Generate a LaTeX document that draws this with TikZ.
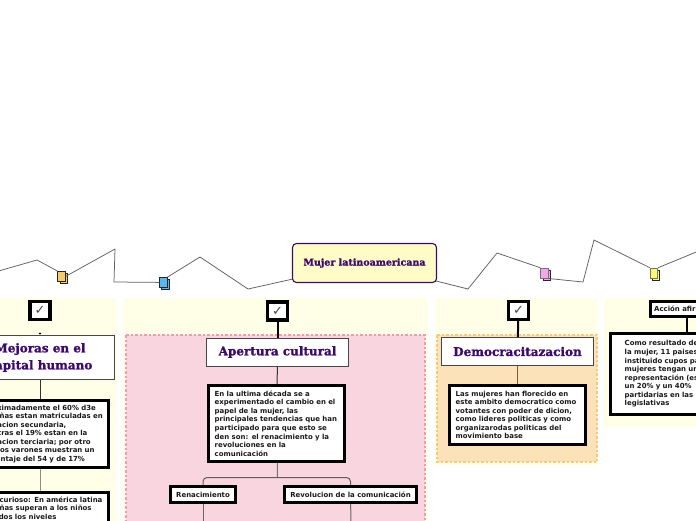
\documentclass[tikz,border=0pt]{standalone}
\usepackage{fontspec}
\setmainfont{DejaVu Sans}
\newfontfamily\titlef[FakeBold=1.3]{DejaVu Serif Bold}
\newfontfamily\bodyf{DejaVu Sans Bold}
\newcommand{\tl}[1]{\makebox[0pt][l]{#1}\par}
\definecolor{paneli}{HTML}{FFFFE8}
\definecolor{pinki}{HTML}{F9D5E0}
\definecolor{pinkd}{HTML}{F59AAE}
\definecolor{orai}{HTML}{FBE2B8}
\definecolor{orad}{HTML}{FBC77F}
\definecolor{purp}{HTML}{3D0A6B}
\definecolor{icoblue}{HTML}{5BB8EE}
\definecolor{icoora}{HTML}{F6CB6C}
\definecolor{icopink}{HTML}{F2A6EC}
\definecolor{icoyel}{HTML}{FCFC72}
\tikzset{
  panel/.style={fill=paneli,draw=none},
  zone/.style={dashed,dash pattern=on 2.5pt off 2pt,line width=1.1pt},
  wave/.style={draw=black!62,line width=.75pt,line join=round},
  mainbox/.style={draw=purp,line width=1.1pt,fill=yellow!22,rounded corners=4pt,font=\titlef\fontsize{9.5}{10}\selectfont,text=purp,minimum width=144,minimum height=39},
  titlebox/.style={draw=black!72,line width=1pt,fill=white,text=purp,align=center,inner sep=0pt,font=\titlef\fontsize{12}{17}\selectfont},
  bodybox/.style={draw=black,line width=3.4pt,fill=white,anchor=north west,align=left,inner ysep=0pt,font=\bodyf\fontsize{6.95}{8.55}\selectfont,text=black!90},
  tagbox/.style={draw=black,line width=3.4pt,fill=white,inner sep=0pt,font=\bodyf\fontsize{6.95}{8.55}\selectfont,text=black!90,anchor=north west},
  checkbox/.style={draw=black,line width=3.4pt,fill=white,inner sep=0pt,minimum width=20,minimum height=18,text=black!72,font=\fontsize{13}{13}\selectfont},
  heavy/.style={draw=black,line width=2pt},
  thin link/.style={draw=black!80,line width=1pt},
  soft link/.style={draw=black!45,line width=1pt},
  brown link/.style={draw=brown!70!black,line width=1.4pt},
  page/.style={draw=black!85,line width=.8pt,minimum width=7.5,minimum height=10,inner sep=0pt,anchor=north west}
}
\begin{document}
\begin{tikzpicture}[x=1pt,y=-1pt]
\useasboundingbox (0,0) rectangle (696,520);
\clip (0,0) rectangle (696,520);
\fill[white] (0,0) rectangle (696,520);
% panels
\fill[panel] (-10,298) rectangle (117,530);
\fill[panel] (123,298) rectangle (428,530);
\fill[panel] (434.5,298) rectangle (598,465);
\fill[panel] (604,298) rectangle (706,427);
\path[zone,fill=pinki,draw=pinkd] (126,335) rectangle (425,530);
\path[zone,fill=orai,draw=orad] (437,335) rectangle (597,462);
% wave way-points
\coordinate (a0) at (293,279);
\coordinate (a1) at (248,289);
\coordinate (a2) at (200,257);
\coordinate (a3) at (114,282);
\coordinate (a4) at (115,249);
\coordinate (a5) at (37,260);
\coordinate (a6) at (-5,272);
\coordinate (b0) at (436,281);
\coordinate (b1) at (468,289);
\coordinate (b2) at (497,253);
\coordinate (b3) at (583,282);
\coordinate (b4) at (594,240);
\coordinate (b5) at (706,248);
% icons
\node[page,fill=icoblue] (blueb) at (161,279) {};
\node[page,fill=icoblue] (bluef) at (159.3,277) {};
\node[page,fill=icoora] (oranb) at (59.5,273) {};
\node[page,fill=icoora] (oranf) at (57.3,271) {};
\node[page,fill=icopink] (pinkb) at (542.5,269.5) {};
\node[page,fill=icopink,draw=black!55] (pinkf) at (540.3,267.7) {};
\node[page,fill=icoyel] (yelb) at (651.5,269.5) {};
\node[page,fill=icoyel,draw=black!55] (yelf) at (649.8,267.7) {};
\draw[wave] (a0) -- (a1) -- (a2) -- (bluef.north east);
\draw[wave] (bluef.west) -- (a3) -- (a4) -- (oranf.east);
\draw[wave] (oranf.north west) -- (a5) -- (a6);
\draw[wave] (b0) -- (b1) -- (b2) -- (pinkf.north west);
\draw[wave] (pinkf.south east) -- (b3) -- (b4) -- (yelf.north west);
\draw[wave] (yelf.north east) -- (b5);
% main
\node[mainbox] (main) at (364.5,263) {Mujer latinoamericana};
% checks
\node[checkbox] (c1) at (40,310.5) {✓};
\node[checkbox] (c2) at (277.5,311) {✓};
\node[checkbox] (c3) at (518.5,310.5) {✓};
% titles
\node[titlebox,minimum width=149,minimum height=44] (t1) at (40,357.5) {Mejoras en el\\capital humano};
\node[titlebox,minimum width=142,minimum height=28] (t2) at (277.5,352) {Apertura cultural};
\node[titlebox,minimum width=152,minimum height=28] (t3) at (517.5,351.5) {Democracitazacion};
% body
\node[bodybox,inner xsep=6pt,text width=124,minimum height=66.6] (x1) at (-29,399) {\tl{Aproximadamente el 60\% d3e}\tl{las niñas estan matriculadas en}\tl{educacion secundaria,}\tl{mientras el 19\% estan en la}\tl{educacion terciaria; por otro}\tl{lado los varones muestran un}\tl{porcentaje del 54 y de 17\%}};
\node[bodybox,inner xsep=6pt,inner ysep=4pt,text width=124] (x2) at (-29,491) {\tl{Dato curioso: En américa latina}\tl{las niñas superan a los niños}\tl{en todos los niveles}\tl{}\tl{}\tl{}};
\node[bodybox,inner xsep=6pt,text width=124,minimum height=75.6] (x3) at (207,384) {\tl{En la ultima década se a}\tl{experimentado el cambio en el}\tl{papel de la mujer, las}\tl{principales tendencias que han}\tl{participado para que esto se}\tl{den son: el renacimiento y la}\tl{revoluciones en la}\tl{comunicación}};
\node[bodybox,inner xsep=6pt,text width=123.6,minimum height=58.6] (x4) at (448,384) {\tl{Las mujeres han florecido en}\tl{este ambito democratico como}\tl{votantes con poder de dicion,}\tl{como lideres politicas y como}\tl{organizarodas politicas del}\tl{movimiento base}};
\node[bodybox,inner xsep=14pt,text width=100,minimum height=80.6] (x5) at (609,332) {\tl{Como resultado de}\tl{la mujer, 11 paises}\tl{instituido cupos pa}\tl{mujeres tengan un}\tl{representación (es}\tl{un 20\% y un 40\%}\tl{partidarias en las}\tl{legislativas}};
% tags
\node[tagbox,minimum width=64.6,minimum height=15.6] (r1) at (169,485) {Renacimiento};
\node[tagbox,minimum width=131.6,minimum height=15.6] (r2) at (283,485) {Revolucion de la comunicación};
\node[tagbox,minimum height=14.6,inner xsep=0pt,text width=80,minimum width=80,align=left] (r3) at (648.5,300) {\hspace{4pt}\tl{Acción afirmativa}};
% connectors
\coordinate (br) at (277.5,477.5);
\coordinate (e1) at (203,525);
\coordinate (e2) at (351,525);
\coordinate (f1) at (687,318);
\coordinate (f2) at (687,332);
\coordinate (d1) at (40,333.5);
\draw[heavy] (c2) -- (t2);
\draw[heavy] (c3) -- (t3);
\draw[heavy] (f1) -- (f2);
\draw[thin link] (t1) -- (x1.north -| t1);
\draw[soft link] (x1.south -| t1) -- (x2.north -| t1);
\draw[thin link] (t2) -- (x3);
\draw[thin link,draw=black!55] (x3) -- (br);
\draw[draw=black!40!pinki!70!black,line width=1pt,rounded corners=4pt] (r1.north) |- (br) -| (r2.north);
\draw[thin link,draw=black!60] (r1) -- (e1);
\draw[thin link,draw=black!60] (r2) -- (e2);
\draw[brown link] (t3) -- (x4.north -| t3);
\fill[black] (d1) circle (1.2);
\end{tikzpicture}
\end{document}
